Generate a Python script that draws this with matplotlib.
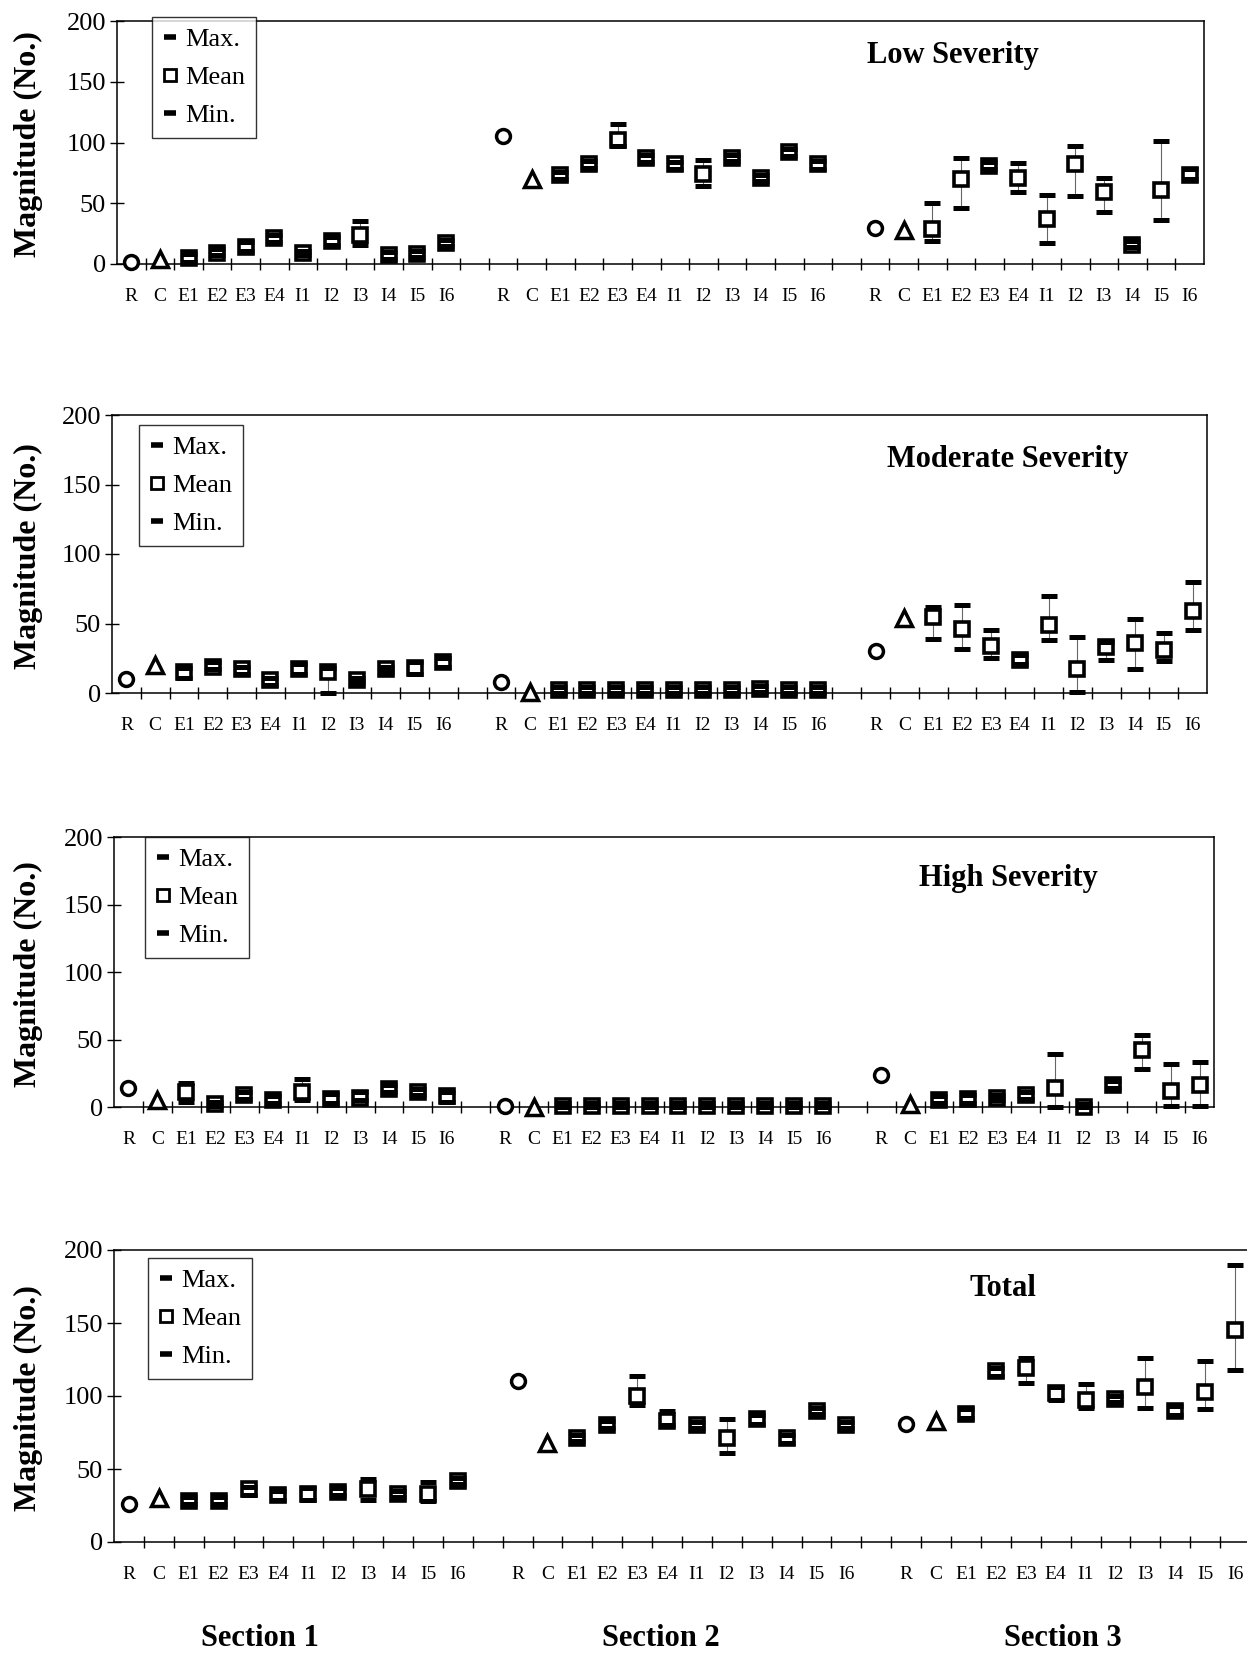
'''
    Magnitude by severity class for the three sections: reference, control
    and treatment plots (mean with max / min)
'''
import matplotlib
matplotlib.use('Agg')
import matplotlib.pyplot as plt
from matplotlib.lines import Line2D

plt.rcParams['font.family'] = ['Liberation Serif', 'DejaVu Serif']

categories = ['R', 'C', 'E1', 'E2', 'E3', 'E4', 'I1', 'I2', 'I3', 'I4', 'I5', 'I6']
sections = ['Section 1', 'Section 2', 'Section 3']
panel_titles = ['Low Severity', 'Moderate Severity', 'High Severity', 'Total']

# low severity
low_ref = [2, 105, 30]
low_ctrl = [4, 70, 28]
low_mean = [[5, 9, 14, 21, 9, 19, 24, 7, 8, 17],
            [73, 82, 102, 87, 82, 74, 87, 71, 92, 82],
            [29, 70, 81, 71, 37, 82, 59, 16, 61, 73]]
low_max = [[8, 12, 18, 24, 11, 22, 35, 10, 11, 20],
           [76, 85, 115, 90, 84, 86, 90, 73, 95, 85],
           [50, 87, 84, 83, 57, 97, 71, 19, 101, 78]]
low_min = [[2, 7, 11, 18, 7, 16, 16, 4, 6, 15],
           [70, 79, 97, 84, 78, 64, 85, 68, 89, 78],
           [19, 46, 78, 59, 17, 56, 43, 14, 36, 70]]

# moderate severity
mod_ref = [10, 8, 30]
mod_ctrl = [20, 1, 54]
mod_mean = [[15, 19, 17, 9, 17, 15, 9, 17, 18, 22],
            [2, 2, 2, 2, 2, 2, 2, 3, 2, 2],
            [55, 46, 34, 24, 49, 17, 33, 36, 31, 59]]
mod_max = [[18, 22, 19, 11, 21, 18, 11, 19, 22, 25],
           [4, 4, 4, 4, 4, 4, 4, 5, 4, 4],
           [62, 63, 45, 27, 70, 40, 37, 53, 43, 80]]
mod_min = [[11, 17, 14, 6, 14, 0, 7, 15, 14, 19],
           [0, 0, 0, 0, 0, 0, 0, 1, 0, 0],
           [39, 32, 25, 21, 38, 1, 24, 17, 23, 45]]

# high severity
high_ref = [14, 1, 24]
high_ctrl = [5, 0, 2]
high_mean = [[11, 2, 9, 5, 11, 6, 7, 13, 11, 8],
             [1, 1, 1, 1, 1, 1, 1, 1, 1, 1],
             [5, 6, 7, 9, 14, 0, 16, 42, 12, 16]]
high_max = [[18, 4, 11, 8, 21, 10, 11, 16, 13, 11],
            [3, 3, 3, 3, 3, 3, 3, 3, 3, 3],
            [8, 9, 9, 11, 39, 2, 19, 53, 32, 33]]
high_min = [[4, 1, 6, 3, 5, 3, 5, 11, 9, 4],
            [0, 0, 0, 0, 0, 0, 0, 0, 0, 0],
            [3, 3, 5, 6, 0, 0, 14, 28, 1, 1]]

# total
tot_ref = [26, 110, 81]
tot_ctrl = [30, 68, 83]
tot_mean = [[28, 28, 36, 32, 33, 34, 36, 33, 33, 42],
            [71, 80, 100, 83, 80, 71, 84, 71, 90, 80],
            [88, 117, 119, 102, 97, 98, 106, 90, 103, 145]]
tot_max = [[31, 31, 38, 35, 37, 37, 43, 35, 41, 44],
           [73, 83, 114, 90, 82, 84, 87, 73, 92, 82],
           [91, 119, 126, 106, 108, 100, 126, 93, 124, 190]]
tot_min = [[26, 26, 32, 29, 29, 32, 29, 31, 28, 40],
           [69, 78, 94, 80, 78, 61, 81, 68, 88, 78],
           [85, 114, 109, 97, 92, 96, 92, 87, 91, 118]]

panel_data = [(low_ref, low_ctrl, low_mean, low_max, low_min),
              (mod_ref, mod_ctrl, mod_mean, mod_max, mod_min),
              (high_ref, high_ctrl, high_mean, high_max, high_min),
              (tot_ref, tot_ctrl, tot_mean, tot_max, tot_min)]

W, H = 1247, 1659
fig = plt.figure(figsize=(W / 100, H / 100), dpi=100)

# axes boxes in pixels: left, right, top(200), bottom(0)
boxes = [(117, 1204, 21, 264), (112, 1207, 415, 693),
         (114, 1214, 837, 1107), (114, 1250, 1250, 1542)]
legend_at = [(152, 17), (139, 425), (145, 837), (148, 1258)]
title_at = [(953, 56), (1008, 460), (1008, 878), (1003, 1288)]


def fx(x):
    return x / W


def fy(y):
    return 1 - y / H


black_dash = dict(marker='_', markersize=12, markeredgewidth=3.6, color='black', linestyle='none')
open_square = dict(marker='s', markersize=10, markerfacecolor='white', markeredgecolor='black',
                   markeredgewidth=2.6, linestyle='none')

for i, (ref, ctrl, mean, vmax, vmin) in enumerate(panel_data):
    left, right, top, bottom = boxes[i]
    ax = fig.add_axes([fx(left), fy(bottom), (right - left) / W, (bottom - top) / H])

    for s in range(3):
        base = s * 13 + 1
        xs = [base + 2 + k for k in range(10)]
        ax.plot([base], [ref[s]], marker='o', markersize=10, markerfacecolor='white',
                markeredgecolor='black', markeredgewidth=2.5, linestyle='none', zorder=4,
                clip_on=False)
        ax.plot([base + 1], [ctrl[s]], marker='^', markersize=11, markerfacecolor='white',
                markeredgecolor='black', markeredgewidth=2.5, linestyle='none', zorder=4,
                clip_on=False)
        ax.vlines(xs, vmin[s], vmax[s], color='0.4', linewidth=0.8, zorder=2)
        ax.plot(xs, mean[s], zorder=3, clip_on=False, **open_square)
        ax.plot(xs, vmax[s], zorder=5, clip_on=False, **black_dash)
        ax.plot(xs, vmin[s], zorder=5, clip_on=False, **black_dash)

    ax.set_xlim(0.5, 38.5)
    ax.set_ylim(0, 200)
    ax.set_yticks([0, 50, 100, 150, 200])
    ax.tick_params(axis='y', which='major', direction='inout', length=10, width=1,
                   labelsize=19, pad=3)

    # boundaries as ticks, category names on minor ticks
    ax.set_xticks([k + 0.5 for k in range(1, 38)])
    ax.set_xticklabels([])
    ax.tick_params(axis='x', which='major', direction='inout', length=8, width=1)
    label_pos = [s * 13 + 1 + k for s in range(3) for k in range(12)]
    ax.set_xticks(label_pos, minor=True)
    ax.set_xticklabels(categories * 3, minor=True)
    ax.tick_params(axis='x', which='minor', length=0, labelsize=14, pad=17)

    for sp in ax.spines.values():
        sp.set_linewidth(1.1)
        sp.set_color('black')

    handles = [Line2D([], [], **dict(black_dash, markersize=9, markeredgewidth=4)),
               Line2D([], [], **dict(open_square, markersize=9, markeredgewidth=2)),
               Line2D([], [], **dict(black_dash, markersize=9, markeredgewidth=4))]
    lx, ly = legend_at[i]
    leg = ax.legend(handles, ['Max.', 'Mean', 'Min.'], loc='upper left',
                    bbox_to_anchor=(fx(lx), fy(ly)), bbox_transform=fig.transFigure,
                    fontsize=19, frameon=True, fancybox=False, borderaxespad=0,
                    handlelength=0.6, handletextpad=0.25, labelspacing=0.55,
                    borderpad=0.4)
    leg.get_frame().set_edgecolor('black')
    leg.get_frame().set_linewidth(1)

    tx, ty = title_at[i]
    fig.text(fx(tx), fy(ty), panel_titles[i], fontsize=22, fontweight='bold',
             ha='center', va='center')
    fig.text(fx(28), fy((top + bottom) / 2 + 2), 'Magnitude (No.)', fontsize=23,
             fontweight='bold', rotation=90, ha='center', va='center')

for name, x in zip(sections, [260, 661, 1063]):
    fig.text(fx(x), fy(1638), name, fontsize=22, fontweight='bold', ha='center', va='center')

fig.savefig('out.png', dpi=100)
